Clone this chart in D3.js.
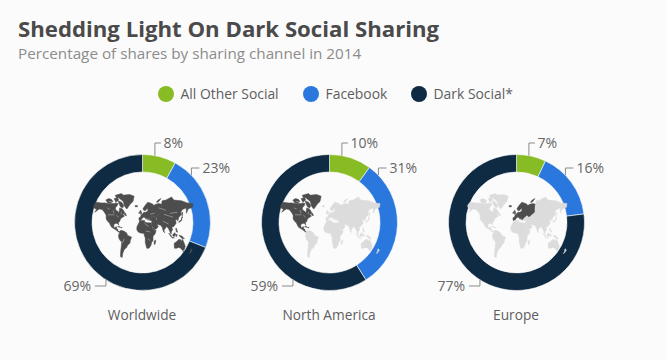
<!DOCTYPE html>
<html>
<head>
<meta charset="utf-8">
<script src="https://cdn.jsdelivr.net/npm/d3@7"></script>
<style>
  html, body { margin:0; padding:0; background:#fbfbfb; }
  svg { display:block; font-family:"Open Sans", sans-serif; }
</style>
</head>
<body>
<div id="chart"></div>
<script>
const seriesNames = ["All Other Social", "Facebook", "Dark Social*"];
const regions = ["Worldwide", "North America", "Europe"];
const otherSocial = [8, 10, 7];
const facebook = [23, 31, 16];
const darkSocial = [69, 59, 77];
const colors = ["#88bc24", "#2a78de", "#0f2a43"];

// rough continent outlines, lon/lat
const northAmerica = [
  [[-168,66],[-162,70],[-156,71],[-141,70],[-128,70],[-115,69],[-108,69],[-96,69],[-90,70],[-82,69],[-86,65],[-92,62],[-90,58],[-83,56],[-81,53],[-78,56],[-77,62],[-70,61],[-65,59],[-60,54],[-56,52],[-66,50],[-60,46],[-66,44],[-70,42],[-74,40],[-76,35],[-81,31],[-80,25],[-83,29],[-90,30],[-97,27],[-97,21],[-94,18],[-90,21],[-87,21],[-88,16],[-83,15],[-83,10],[-78,9],[-80,7],[-86,11],[-92,14],[-96,16],[-105,20],[-109,25],[-113,31],[-118,34],[-124,40],[-124,48],[-130,54],[-138,59],[-148,60],[-154,58],[-164,54],[-158,59],[-166,62]],
  [[-125,74],[-116,76],[-106,75],[-100,72],[-108,70],[-118,70]],
  [[-96,76],[-84,77],[-80,74],[-90,71]],
  [[-92,80],[-70,82],[-64,80],[-76,77],[-88,77]],
  [[-82,73],[-70,71],[-62,66],[-66,62],[-74,64],[-78,68]],
  [[-59,51],[-55,51],[-53,47],[-59,48]],
  [[-84,22],[-78,22],[-74,20],[-78,20]],
  [[-73,20],[-68,19],[-72,18]]
];
const greenland = [
  [[-80,77],[-68,80],[-42,81],[-26,79],[-30,72],[-40,68],[-50,61],[-52,60],[-60,65],[-64,72]]
];
const southAmerica = [
  [[-78,9],[-72,12],[-62,10],[-52,5],[-50,0],[-44,-3],[-35,-6],[-39,-14],[-41,-22],[-48,-26],[-53,-33],[-58,-35],[-62,-39],[-66,-46],[-68,-54],[-74,-52],[-73,-40],[-71,-30],[-70,-18],[-76,-14],[-81,-5],[-80,1],[-77,5]]
];
const europe = [
  [[-9,37],[-6,36],[-1,38],[3,42],[7,44],[12,43],[16,39],[18,41],[19,42],[23,37],[26,40],[29,41],[36,45],[40,47],[47,43],[52,46],[60,50],[68,54],[68,62],[70,68],[60,69],[50,68],[42,66],[40,68],[30,70],[22,71],[14,67],[5,61],[7,58],[12,57],[17,59],[21,62],[22,59],[21,56],[14,54],[8,54],[4,51],[-2,48],[-4,44],[-9,43]],
  [[-5,50],[1,51],[0,54],[-3,58],[-6,56],[-3,53]],
  [[-10,52],[-6,52],[-6,55],[-9,54]],
  [[-23,64],[-14,64],[-15,66],[-22,66]],
  [[52,71],[58,74],[68,76],[58,71]]
];
const africa = [
  [[-6,36],[10,37],[11,33],[20,31],[32,31],[35,27],[38,18],[43,12],[51,12],[48,4],[40,-4],[40,-15],[35,-20],[33,-27],[26,-34],[18,-34],[13,-20],[13,-8],[9,0],[9,4],[-4,5],[-12,8],[-17,14],[-16,22],[-10,30]],
  [[44,-16],[50,-14],[47,-25],[44,-24]]
];
const asia = [
  [[36,45],[29,41],[27,37],[36,36],[34,28],[43,13],[52,16],[59,22],[54,26],[57,27],[67,25],[72,20],[77,8],[80,14],[88,22],[94,17],[98,10],[103,2],[105,10],[109,13],[106,20],[113,22],[121,30],[119,38],[125,39],[127,35],[130,43],[140,50],[137,54],[143,59],[156,62],[157,52],[163,60],[178,63],[180,69],[160,70],[140,73],[113,74],[105,78],[85,74],[72,73],[70,68],[68,62],[68,54],[60,50],[52,46],[47,43],[40,47]],
  [[130,32],[136,34],[141,37],[141,42],[145,44],[141,45],[139,38],[132,35]],
  [[142,46],[144,54],[141,54]],
  [[95,5],[104,-2],[106,-6],[102,-4]],
  [[109,1],[117,6],[119,1],[115,-4],[110,-3]],
  [[106,-6],[115,-8],[106,-8]],
  [[120,1],[125,1],[122,-5],[120,-4]],
  [[120,18],[122,17],[126,7],[122,8],[120,14]],
  [[131,-1],[141,-3],[150,-10],[141,-9],[134,-4]],
  [[80,9],[82,7],[80,6]]
];
const oceania = [
  [[114,-22],[122,-18],[130,-12],[136,-12],[140,-17],[143,-11],[150,-23],[153,-30],[149,-38],[143,-39],[137,-34],[130,-32],[123,-34],[115,-34]],
  [[145,-41],[148,-41],[147,-43]],
  [[173,-35],[178,-38],[175,-41],[172,-44],[167,-46],[171,-42]]
];
// pale flecks: lakes and a few borders
const flecks = [
  [[-120,62],[-112,60]], [[-100,58],[-96,52]], [[-88,48],[-80,44]], [[-115,72],[-104,72]],
  [[-118,49],[-95,49]], [[-72,50],[-70,55]],
  [[30,50],[45,52]], [[52,42],[52,38]], [[60,62],[85,58]], [[100,52],[125,54]], [[78,50],[110,44]],
  [[75,35],[95,28]], [[10,30],[25,22]], [[15,10],[30,8]], [[22,-10],[30,-15]], [[-60,-10],[-68,-22]]
];

const landmasses = [
  {shapes: northAmerica, home: 1}, {shapes: greenland, home: 1},
  {shapes: southAmerica, home: -1}, {shapes: europe, home: 2},
  {shapes: africa, home: -1}, {shapes: asia, home: -1}, {shapes: oceania, home: -1}
];

const width = 667, height = 360;
const outerR = 68, innerR = 50.5;
const cx = d3.scalePoint().domain(regions).range([142.5, 516.5]);
const cy = 222.5;
// leaders sit at the same spot on every ring
const leaderAngles = [10.5, 46, 212.5];

const svg = d3.select("#chart").append("svg").attr("width", width).attr("height", height);

svg.append("text").attr("x", 18).attr("y", 37)
  .attr("font-size", 22.2).attr("font-weight", 700).attr("fill", "#4a4a4a")
  .text("Shedding Light On Dark Social Sharing");
svg.append("text").attr("x", 18).attr("y", 59)
  .attr("font-size", 15.25).attr("fill", "#8c8c8c")
  .text("Percentage of shares by sharing channel in 2014");

// legend
const legendX = [166, 311, 419];
seriesNames.forEach((s, i) => {
  svg.append("circle").attr("cx", legendX[i]).attr("cy", 94).attr("r", 8).attr("fill", colors[i]);
  svg.append("text").attr("x", legendX[i] + 14.5).attr("y", 99)
    .attr("font-size", 13.9).attr("fill", "#5e5e5e").text(s);
});

const pie = d3.pie().sort(null).value(d => d);
const arc = d3.arc().innerRadius(innerR).outerRadius(outerR);

// miller style y, squeezed x, to fit the map in the ring
const miller = lat => 1.25 * Math.log(Math.tan(Math.PI / 4 + 0.4 * lat * Math.PI / 180));
const mapX = d3.scaleLinear().domain([-170, 180]).range([-49.5, 50.5]);
const mapY = d3.scaleLinear().domain([0, 1]).range([12.4, -9.2]);
const outline = d3.line().x(d => mapX(d[0])).y(d => mapY(miller(d[1]))).curve(d3.curveLinearClosed);
const fleckLine = d3.line().x(d => mapX(d[0])).y(d => mapY(miller(d[1])));

regions.forEach((region, r) => {
  const values = [otherSocial[r], facebook[r], darkSocial[r]];
  const g = svg.append("g").attr("transform", `translate(${cx(region)},${cy})`);

  g.selectAll("path.slice").data(pie(values)).enter().append("path")
    .attr("class", "slice")
    .attr("d", arc)
    .attr("fill", (d, i) => colors[i])
    .attr("stroke", "#fbfbfb")
    .attr("stroke-width", 0.6);

  // map, with the region itself dark
  const map = g.append("g");
  landmasses.forEach(l => {
    const active = r === 0 || l.home === r;
    map.selectAll(null).data(l.shapes).enter().append("path")
      .attr("d", outline)
      .attr("fill", active ? "#4d4d4d" : "#dcdcdc")
      .attr("stroke", active ? "#4d4d4d" : "#dcdcdc")
      .attr("stroke-width", 0.5)
      .attr("stroke-linejoin", "round");
  });
  map.selectAll(null).data(r === 0 ? flecks : r === 1 ? flecks.slice(0, 6) : []).enter().append("path")
    .attr("d", fleckLine)
    .attr("fill", "none")
    .attr("stroke", "#fbfbfb")
    .attr("stroke-width", 0.45)
    .attr("opacity", 0.8);

  // leaders + labels
  values.forEach((v, i) => {
    const a = leaderAngles[i] * Math.PI / 180;
    const ax = Math.sin(a) * outerR, ay = -Math.cos(a) * outerR;
    let pts, tx, ty, anchor;
    if (i === 0) {
      pts = [[ax, ay], [ax, -79.5], [ax + 6, -79.5]];
      tx = ax + 8.5; ty = -79.5; anchor = "start";
    } else if (i === 1) {
      pts = [[ax, ay], [ax, -54.5], [ax + 8, -54.5]];
      tx = ax + 11; ty = -54.5; anchor = "start";
    } else {
      pts = [[ax, ay], [ax, 63.5], [ax - 11, 63.5]];
      tx = ax - 15; ty = 63.5; anchor = "end";
    }
    g.append("path").attr("d", d3.line()(pts))
      .attr("fill", "none").attr("stroke", "#8a8a8a").attr("stroke-width", 1);
    g.append("text").attr("x", tx).attr("y", ty).attr("dy", "0.35em")
      .attr("text-anchor", anchor).attr("font-size", 14).attr("fill", "#666")
      .text(v + "%");
  });

  g.append("text").attr("x", -0.5).attr("y", 97).attr("text-anchor", "middle")
    .attr("font-size", 13.7).attr("fill", "#5e5e5e").text(region);
});
</script>
</body>
</html>
